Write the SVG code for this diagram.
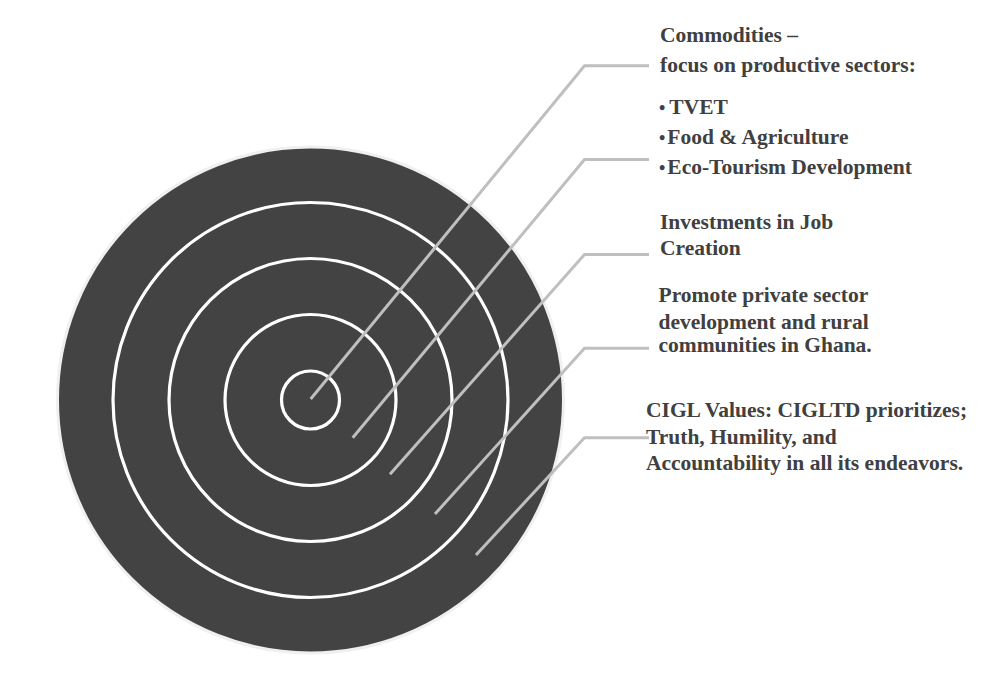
<svg xmlns="http://www.w3.org/2000/svg" width="1000" height="675" viewBox="0 0 1000 675">
<style>
.ring{fill:none;stroke:#ffffff;stroke-width:3.2}
.lead{fill:none;stroke:#bfbfbf;stroke-width:3;stroke-linejoin:miter}
.t{font-family:"Liberation Serif","Times New Roman",serif;font-weight:bold;font-size:21.5px;fill:#404040}
.b{font-size:18px}
</style>
<rect width="1000" height="675" fill="#ffffff"/>
<g id="target">
<circle cx="310.5" cy="400" r="253" fill="#434343" stroke="#f0f0f0" stroke-width="3"/>
<circle class="ring" cx="310.5" cy="400" r="197.5"/>
<circle class="ring" cx="310.5" cy="400" r="141.5"/>
<circle class="ring" cx="310.5" cy="400" r="85.5"/>
<circle class="ring" cx="310.5" cy="400" r="29"/>
</g>
<g id="connectors">
<polyline class="lead" points="310.7,399 584.5,65.7 649,65.7"/>
<polyline class="lead" points="352.7,437.7 584.5,159.5 649,159.5"/>
<polyline class="lead" points="390,474.3 584.5,254.5 649,254.5"/>
<polyline class="lead" points="435,514 584.5,348.3 649,348.3"/>
<polyline class="lead" points="476,555 584.5,437.7 649,437.7"/>
</g>
<g id="label-commodities">
<text class="t" x="660" y="42">Commodities –</text>
<text class="t" x="660" y="72">focus on productive sectors:</text>
<text class="t" x="659" y="114"><tspan class="b">•</tspan><tspan dx="4">TVET</tspan></text>
<text class="t" x="659" y="143.5"><tspan class="b">•</tspan><tspan dx="2">Food &amp; Agriculture</tspan></text>
<text class="t" x="659" y="174"><tspan class="b">•</tspan><tspan dx="2">Eco-Tourism Development</tspan></text>
</g>
<g id="label-investments">
<text class="t" x="660" y="228.5">Investments in Job</text>
<text class="t" x="660" y="255">Creation</text>
</g>
<g id="label-promote">
<text class="t" x="658.5" y="302">Promote private sector</text>
<text class="t" x="658.5" y="328.5">development and rural</text>
<text class="t" x="658.5" y="352">communities in Ghana.</text>
</g>
<g id="label-values">
<text class="t" x="646" y="417">CIGL Values: CIGLTD prioritizes;</text>
<text class="t" x="646" y="443.5">Truth, Humility, and</text>
<text class="t" x="646" y="470">Accountability in all its endeavors.</text>
</g>
</svg>
